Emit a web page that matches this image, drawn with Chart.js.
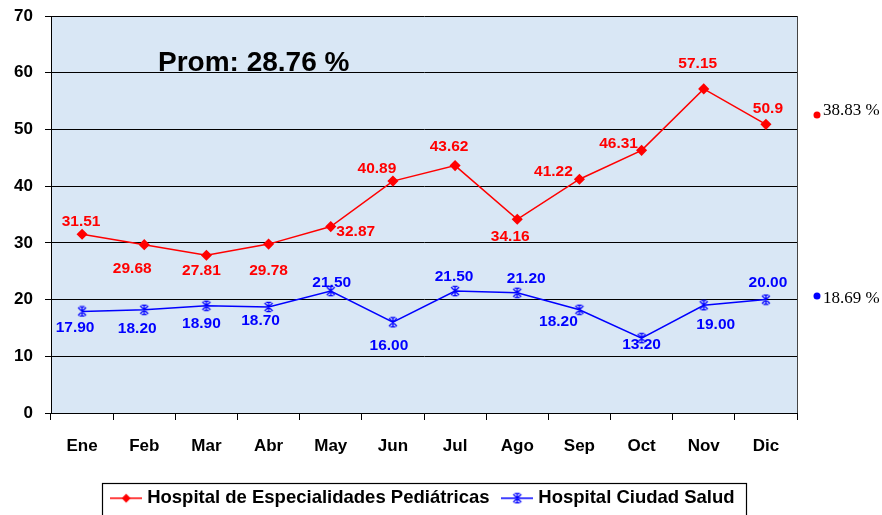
<!DOCTYPE html>
<html>
<head>
<meta charset="utf-8">
<script src="https://cdn.jsdelivr.net/npm/chart.js@4.4.0/dist/chart.umd.min.js"></script>
<style>
  html, body { margin: 0; padding: 0; background: #fff; }
</style>
</head>
<body>
<canvas id="chart" width="882" height="515"></canvas>
<script>
// datos mensuales (%)
const months = ['Ene', 'Feb', 'Mar', 'Abr', 'May', 'Jun', 'Jul', 'Ago', 'Sep', 'Oct', 'Nov', 'Dic'];
const pediatricas = [31.51, 29.68, 27.81, 29.78, 32.87, 40.89, 43.62, 34.16, 41.22, 46.31, 57.15, 50.9];
const ciudadSalud = [17.90, 18.20, 18.90, 18.70, 21.50, 16.00, 21.50, 21.20, 18.20, 13.20, 19.00, 20.00];
const seriesNames = ['Hospital de Especialidades Pediátricas', 'Hospital Ciudad Salud'];
const seriesAverages = [38.83, 18.69];
const overallAverage = 28.76;

const RED = '#ff0000';
const BLUE = '#0000ff';
const SANS = '"Liberation Sans", Arial, sans-serif';

// where each value label sits relative to its point (px)
const labelOffsets = [
    [[-1, -13], [-12, 24], [-5, 15], [0, 27], [25, 5], [-16, -12], [-6, -19], [-7, 17], [-26, -8], [-23, -7], [-6, -25], [2, -16]],
    [[-7, 16], [-7, 19], [-5, 18], [-8, 14], [1, -8], [-4, 23], [-1, -14], [9, -14], [-21, 12], [0, 7], [12, 19], [2, -17]]
];
const labelText = [v => String(v), v => v.toFixed(2)];

function drawStar(g, x, y, color) {
    g.strokeStyle = color;
    g.lineWidth = 1.3;
    g.beginPath();
    g.moveTo(x - 4, y - 4); g.lineTo(x + 4, y + 4);
    g.moveTo(x + 4, y - 4); g.lineTo(x - 4, y + 4);
    g.moveTo(x, y - 5); g.lineTo(x, y + 5);
    g.moveTo(x - 2.5, y - 4.7); g.lineTo(x + 2.5, y - 4.7);
    g.moveTo(x - 2.5, y + 4.7); g.lineTo(x + 2.5, y + 4.7);
    g.stroke();
}

function drawDiamond(g, x, y, color) {
    g.fillStyle = color;
    g.beginPath();
    g.moveTo(x, y - 4.5); g.lineTo(x + 4.5, y); g.lineTo(x, y + 4.5); g.lineTo(x - 4.5, y);
    g.closePath();
    g.fill();
}

const starImg = document.createElement('canvas');
starImg.width = 12; starImg.height = 12;
drawStar(starImg.getContext('2d'), 6, 6, BLUE);

function swatch(color, marker) {
    const c = document.createElement('canvas');
    c.width = 32; c.height = 12;
    const g = c.getContext('2d');
    g.strokeStyle = color;
    g.lineWidth = 1.5;
    g.beginPath(); g.moveTo(0, 6); g.lineTo(32, 6); g.stroke();
    marker(g, 16, 6, color);
    return c;
}
const swatches = [swatch(RED, drawDiamond), swatch(BLUE, drawStar)];

const plotBackground = {
    id: 'plotBackground',
    beforeDraw(chart) {
        const {ctx, chartArea: a} = chart;
        ctx.save();
        ctx.fillStyle = '#d9e7f5';
        ctx.fillRect(a.left, a.top, a.right - a.left, a.bottom - a.top);
        ctx.restore();
    },
    afterDraw(chart) {
        const {ctx, chartArea: a} = chart;
        ctx.save();
        // right edge of the plot
        ctx.strokeStyle = '#444';
        ctx.lineWidth = 1;
        ctx.beginPath();
        ctx.moveTo(a.right + 0.5, a.top);
        ctx.lineTo(a.right + 0.5, a.bottom);
        ctx.stroke();

        // overall average
        ctx.fillStyle = '#000';
        ctx.font = 'bold 28px ' + SANS;
        ctx.textBaseline = 'alphabetic';
        ctx.fillText('Prom: ' + overallAverage.toFixed(2) + ' %', a.left + 107, a.top + 55);

        // series averages on the right
        const markY = [115, 296];
        const textY = [111, 299];
        const colors = [RED, BLUE];
        ctx.font = '17px "Liberation Serif", "DejaVu Serif", serif';
        ctx.textBaseline = 'middle';
        seriesAverages.forEach((v, i) => {
            ctx.fillStyle = colors[i];
            ctx.beginPath();
            ctx.arc(a.right + 20, markY[i], 3.5, 0, Math.PI * 2);
            ctx.fill();
            ctx.fillStyle = '#000';
            ctx.fillText(v.toFixed(2) + ' %', a.right + 26, textY[i]);
        });

        // legend frame
        const hb = chart.legend.legendHitBoxes;
        if (hb && hb.length) {
            const last = hb[hb.length - 1];
            const left = Math.round(hb[0].left - 12.25);
            const right = Math.round(last.left + last.width + 11);
            ctx.strokeStyle = '#000';
            ctx.lineWidth = 1.2;
            ctx.strokeRect(left + 0.5, 483.5, right - left, 60);
        }
        ctx.restore();
    }
};

const valueLabels = {
    id: 'valueLabels',
    afterDatasetsDraw(chart) {
        const ctx = chart.ctx;
        ctx.save();
        ctx.font = 'bold 15.5px ' + SANS;
        ctx.textAlign = 'center';
        ctx.textBaseline = 'middle';
        chart.data.datasets.forEach((ds, i) => {
            chart.getDatasetMeta(i).data.forEach((pt, j) => {
                const [dx, dy] = labelOffsets[i][j];
                ctx.fillStyle = ds.borderColor;
                ctx.fillText(labelText[i](ds.data[j]), pt.x + dx, pt.y + dy);
            });
        });
        ctx.restore();
    }
};

const axisFont = {family: SANS, size: 17, weight: 'bold'};

new Chart(document.getElementById('chart'), {
    type: 'line',
    data: {
        labels: months,
        datasets: [{
            label: seriesNames[0],
            data: pediatricas,
            borderColor: RED,
            backgroundColor: RED,
            borderWidth: 1.5,
            pointStyle: 'rectRot',
            pointRadius: 4.5,
            tension: 0
        }, {
            label: seriesNames[1],
            data: ciudadSalud,
            borderColor: BLUE,
            backgroundColor: BLUE,
            borderWidth: 1.5,
            pointStyle: starImg,
            pointRadius: 5,
            tension: 0
        }]
    },
    options: {
        responsive: false,
        animation: false,
        devicePixelRatio: 1,
        layout: {padding: {left: 0, right: 33, top: 16, bottom: -2.5}},
        scales: {
            x: {
                offset: true,
                grid: {offset: true, drawOnChartArea: false, color: '#000', tickLength: 7},
                border: {color: '#000'},
                ticks: {color: '#000', font: axisFont, padding: 16, maxRotation: 0},
                afterFit: s => { s.height = 60; }
            },
            y: {
                min: 0,
                max: 70,
                ticks: {stepSize: 10, color: '#000', font: axisFont, padding: 12},
                grid: {color: '#000', tickLength: 6},
                border: {color: '#000'},
                afterFit: s => { s.width = 51; s.paddingTop = 0; s.paddingBottom = 0; }
            },
            yRight: {
                position: 'right',
                grid: {display: false},
                ticks: {display: false},
                border: {display: false},
                afterFit: s => { s.width = 52; s.paddingTop = 0; s.paddingBottom = 0; }
            }
        },
        plugins: {
            tooltip: {enabled: false},
            legend: {
                position: 'bottom',
                labels: {
                    usePointStyle: true,
                    pointStyleWidth: 23.5,
                    boxHeight: 12,
                    padding: 16,
                    color: '#000',
                    font: {family: SANS, size: 18.5, weight: 'bold'},
                    generateLabels: chart => chart.data.datasets.map((ds, i) => ({
                        text: ds.label,
                        pointStyle: swatches[i],
                        fillStyle: ds.borderColor,
                        strokeStyle: ds.borderColor,
                        lineWidth: 0,
                        hidden: false,
                        datasetIndex: i
                    }))
                }
            }
        }
    },
    plugins: [plotBackground, valueLabels]
});
</script>
</body>
</html>
